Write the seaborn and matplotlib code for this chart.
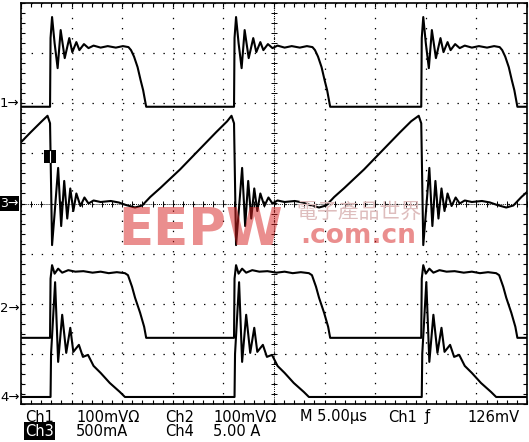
import numpy as np
import pandas as pd
import matplotlib
matplotlib.use("Agg")
import matplotlib.pyplot as plt
import matplotlib.transforms as mtransforms
from matplotlib.patches import Rectangle
from matplotlib.ticker import MultipleLocator
import seaborn as sns

# rising edges of the switching cycles in us (first one is the cycle just before the screen)
edge_times = [-15.45, 2.87, 21.05, 39.55]

# one cycle per channel: time after the rising edge (us) and level on screen (div)
ch1_dt = [-0.3, 0.0, 0.05, 0.2, 0.45, 0.75, 1.05, 1.45, 1.9, 2.2, 2.6, 2.9, 3.35, 3.8,
          4.3, 5.0, 5.7, 6.5, 7.2, 7.75, 8.0, 8.3, 8.65, 8.95, 9.2, 9.5, 12.0, 17.8]
ch1_v = [1.93, 1.93, 3.3, 3.72, 3.2, 2.70, 3.46, 2.90, 3.30, 3.02, 3.22, 3.06, 3.18, 3.10,
         3.15, 3.11, 3.14, 3.11, 3.14, 3.12, 3.06, 2.93, 2.72, 2.46, 2.26, 1.93, 1.93, 1.93]

ch3_dt = [-0.25, 0.0, 0.2, 0.45, 0.8, 1.1, 1.4, 1.7, 2.0, 2.3, 2.6, 3.0, 3.4, 3.8, 4.3,
          5.0, 6.0, 6.8, 7.5, 8.4, 9.1, 9.9, 10.9, 11.9, 12.85, 14.0, 15.2, 16.4, 17.5]
ch3_v = [1.75, 1.6, -0.83, -0.2, 0.71, -0.45, 0.45, -0.3, 0.30, -0.15, 0.20, -0.05, 0.12,
         0.0, 0.06, 0.03, 0.05, 0.02, -0.03, -0.08, -0.04, 0.13, 0.31, 0.50, 0.68, 0.92,
         1.17, 1.42, 1.64]

ch2_dt = [-0.3, 0.0, 0.05, 0.2, 0.45, 0.8, 1.2, 1.8, 2.5, 3.3, 4.2, 5.0, 5.8, 6.6, 7.4,
          7.7, 8.1, 8.4, 8.9, 9.3, 9.5, 12.0, 17.8]
ch2_v = [-2.68, -2.68, -1.5, -1.23, -1.40, -1.30, -1.38, -1.33, -1.36, -1.35, -1.38,
         -1.36, -1.39, -1.37, -1.39, -1.43, -1.66, -1.88, -2.18, -2.46, -2.68, -2.68, -2.68]

ch4_dt = [-0.3, 0.05, 0.1, 0.5, 0.8, 1.2, 1.6, 2.0, 2.3, 2.85, 3.25, 3.75, 4.3, 5.0,
          5.9, 6.9, 7.4, 12.0, 17.8]
ch4_v = [-3.86, -3.86, -3.0, -1.57, -3.16, -2.22, -2.98, -2.48, -2.96, -2.82, -3.06,
         -3.02, -3.24, -3.38, -3.58, -3.76, -3.86, -3.86, -3.86]

# channel reference markers on the left edge
ref_names = ["1", "3", "2", "4"]
ref_levels = [2.0, 0.0, -2.1, -3.88]

# readout lines under the screen
readout_row1 = [("Ch1", 25), ("100mVΩ", 76), ("Ch2", 165), ("100mVΩ", 213),
                ("M 5.00µs", 300), ("Ch1", 388), ("ƒ", 425), ("126mV", 467)]
readout_row2 = [("Ch3", 25), ("500mA", 76), ("Ch4", 165), ("5.00 A", 213)]

rows = []
for name, dts, vs in [("Ch1", ch1_dt, ch1_v), ("Ch3", ch3_dt, ch3_v),
                      ("Ch2", ch2_dt, ch2_v), ("Ch4", ch4_dt, ch4_v)]:
    for e in edge_times:
        for d, v in zip(dts, vs):
            rows.append((name, e + d, v))
df = pd.DataFrame(rows, columns=["ch", "t", "v"])

sns.set_theme(style="white")
plt.rcParams["font.family"] = ["DejaVu Sans", "Noto Sans CJK TC"]
plt.rcParams["lines.scale_dashes"] = False

W, H = 529, 442
fig = plt.figure(figsize=(W / 100, H / 100), dpi=100)
ax = fig.add_axes([21 / W, (H - 404) / H, 506 / W, 401 / H])

for ch in ["Ch1", "Ch3", "Ch2", "Ch4"]:
    sns.lineplot(data=df[df.ch == ch], x="t", y="v", sort=False, estimator=None,
                 color="black", lw=1.5, legend=False, ax=ax, zorder=3)

ax.set_xlim(0, 50)
ax.set_ylim(-4, 4)
ax.set_xlabel("")
ax.set_ylabel("")
ax.xaxis.set_major_locator(MultipleLocator(5))
ax.xaxis.set_minor_locator(MultipleLocator(1))
ax.yaxis.set_major_locator(MultipleLocator(1))
ax.yaxis.set_minor_locator(MultipleLocator(0.2))
ax.tick_params(which="both", direction="in", length=3, width=0.8, color="black",
               top=True, right=True, bottom=True, left=True,
               labelbottom=False, labelleft=False)
ax.grid(True, which="major", color="black", linestyle=(0, (1.0, 6.3)), linewidth=0.9)
for s in ax.spines.values():
    s.set_color("black")
    s.set_linewidth(1.2)

# centre crosshair with its small ticks
ax.axhline(0, color="black", lw=0.7, ls=(0, (0.7, 0.8)), zorder=2)
ax.axvline(25, color="black", lw=0.7, ls=(0, (0.7, 0.8)), zorder=2)
xt = np.arange(0, 50.01, 1)
yt = np.arange(-4, 4.01, 0.2)
ax.plot(xt, np.zeros_like(xt), ls="none", marker="|", ms=4, mew=0.7, color="black", zorder=2)
ax.plot(np.full_like(yt, 25), yt, ls="none", marker="_", ms=4, mew=0.7, color="black", zorder=2)

# trigger marker on the ch3 trace
ax.add_patch(Rectangle((edge_times[1] - 0.6, 0.81), 1.2, 0.26, fc="black", ec="none", zorder=4))
ax.plot([edge_times[1], edge_times[1]], [0.83, 1.05], color="white", lw=0.8, zorder=5)

# channel reference markers
trans = mtransforms.blended_transform_factory(ax.transAxes, ax.transData)
for name, lvl in zip(ref_names, ref_levels):
    if name == "3":
        ax.text(-0.006, lvl, name + "→", transform=trans, ha="right", va="center",
                fontsize=9, color="white",
                bbox=dict(boxstyle="square,pad=0.08", fc="black", ec="none"))
    else:
        ax.text(-0.003, lvl, name + "→", transform=trans, ha="right", va="center",
                fontsize=9.5, color="black")

# readout text
for txt, x in readout_row1:
    fig.text(x / W, 1 - 417 / H, txt, fontsize=10.5, color="black", ha="left", va="center")
for txt, x in readout_row2:
    if txt == "Ch3":
        fig.text(x / W, 1 - 431 / H, txt, fontsize=10.5, color="white", ha="left", va="center",
                 bbox=dict(boxstyle="square,pad=0.1", fc="black", ec="none"))
    else:
        fig.text(x / W, 1 - 431 / H, txt, fontsize=10.5, color="black", ha="left", va="center")

# watermark
wm = (215 / 255, 30 / 255, 30 / 255)
fig.text(118 / W, 1 - 245 / H, "EEPW", fontsize=37, weight="bold", color=wm, alpha=0.5,
         ha="left", va="baseline", zorder=10)
fig.text(296 / W, 1 - 212 / H, "電子產品世界", fontsize=15, color=(0.87, 0.74, 0.74),
         ha="left", va="center", family=["Noto Sans CJK TC", "DejaVu Sans"], zorder=10)
fig.text(300 / W, 1 - 243 / H, ".com.cn", fontsize=19, weight="bold", color=wm, alpha=0.5,
         ha="left", va="baseline", zorder=10)

fig.savefig("out.png", dpi=100)
